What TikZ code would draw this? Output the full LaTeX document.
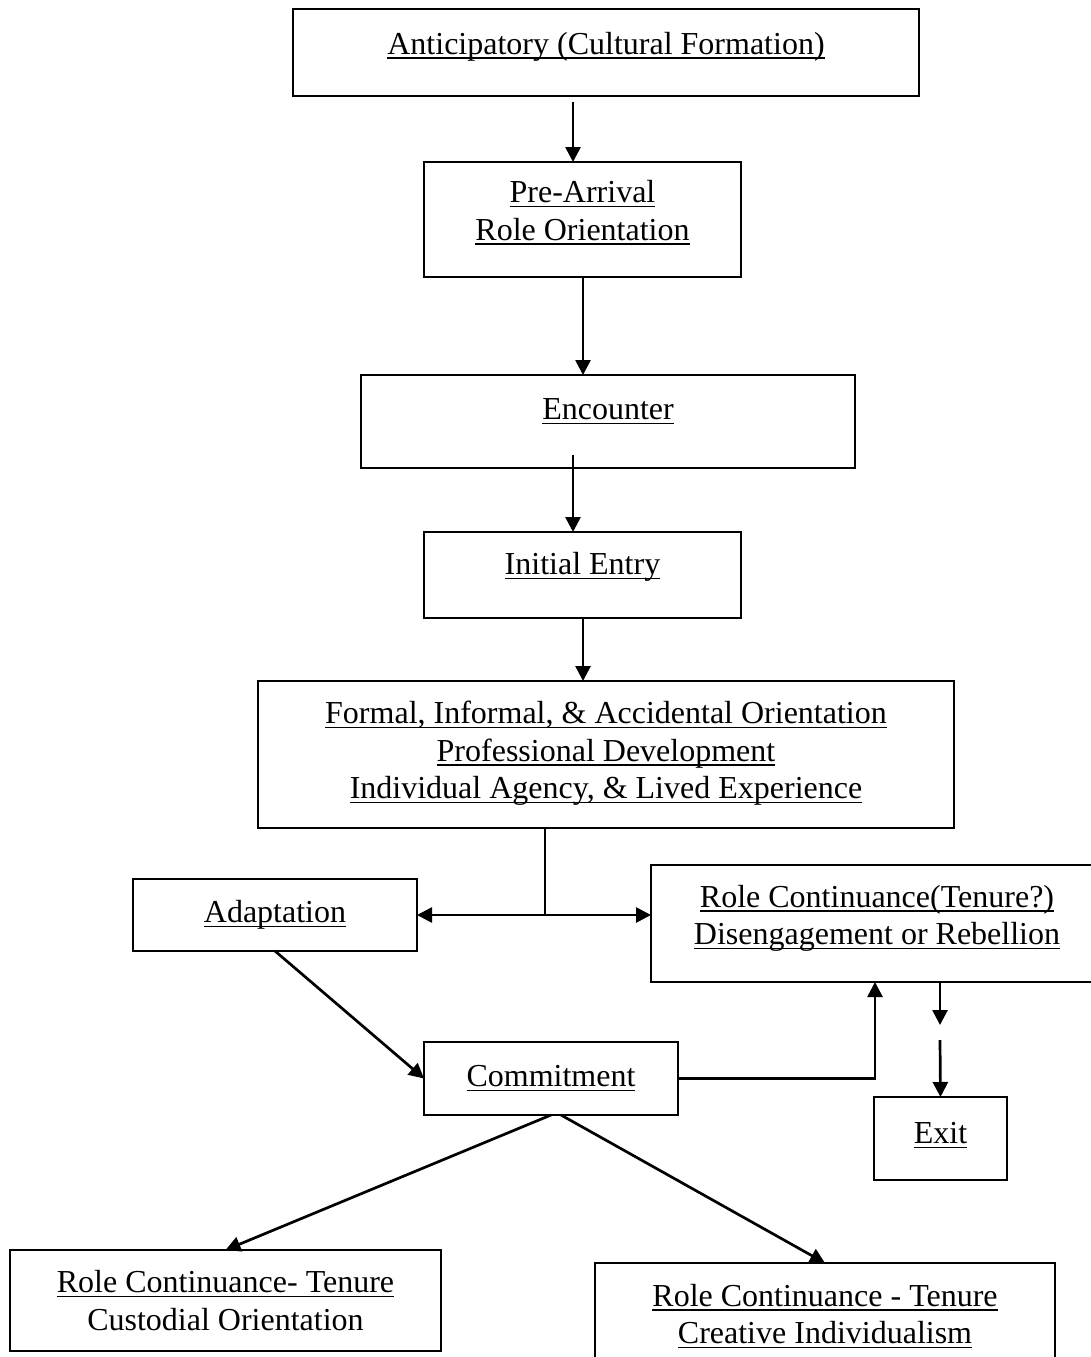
\documentclass[tikz,border=0pt]{standalone}
\usepackage{fontspec}
\setmainfont{Liberation Serif}
\usetikzlibrary{arrows.meta,calc}
\newsavebox\ulbox
\newcommand\ulx[1]{\sbox\ulbox{#1}\rlap{\rule[-4.5pt]{\wd\ulbox}{1.6pt}}\usebox\ulbox}
\begin{document}
\begin{tikzpicture}[x=1pt,y=-1pt,
  box/.style={draw=black,line width=2pt,anchor=north west,inner sep=0pt,outer sep=0pt},
  txt/.style={inner sep=0pt,align=center,font=\fontsize{32}{37.5}\selectfont},
  arr/.style={line width=2.7pt,-{Triangle[length=15pt,width=15pt]}},
  ln/.style={line width=2.7pt}]
\fill[white] (0,0) rectangle (1091,1357);
\useasboundingbox (0,0) rectangle (1091,1357);
\clip (0,0) rectangle (1091,1357);
% boxes
\node[box,minimum width=626pt,minimum height=87pt] (ant) at (293,9) {};
\node[box,minimum width=317pt,minimum height=115pt] (pre) at (424,162) {};
\node[box,minimum width=494pt,minimum height=93pt] (enc) at (361,375) {};
\node[box,minimum width=317pt,minimum height=86pt] (ini) at (424,532) {};
\node[box,minimum width=696pt,minimum height=147pt] (form) at (258,681) {};
\node[box,minimum width=284pt,minimum height=72pt] (adap) at (133,879) {};
\node[box,minimum width=470pt,minimum height=117pt] (rc) at (651,865) {};
\node[box,minimum width=254pt,minimum height=73pt] (com) at (424,1042) {};
\node[box,minimum width=133pt,minimum height=83pt] (exit) at (874,1097) {};
\node[box,minimum width=431pt,minimum height=101pt] (bl) at (10,1250) {};
\node[box,minimum width=460pt,minimum height=112pt] (br) at (595,1263) {};
% texts
\node[txt] (ant-t) at ([yshift=6pt]ant.center) {\ulx{Anticipatory (Cultural Formation)}};
\node[txt] (pre-t) at ([yshift=7pt]pre.center) {\ulx{Pre-Arrival}\\\ulx{Role Orientation}};
\node[txt] (enc-t) at ([yshift=10pt]enc.center) {\ulx{Encounter}};
\node[txt] (ini-t) at ([yshift=8pt]ini.center) {\ulx{Initial Entry}};
\node[txt] (form-t) at ([yshift=1pt]form.center) {\ulx{Formal, Informal, \& Accidental Orientation}\\\ulx{Professional Development}\\\ulx{Individual Agency, \& Lived Experience}};
\node[txt] (adap-t) at (adap.center) {\ulx{Adaptation}};
\node[txt] (rc-t) at ([xshift=-9pt,yshift=5pt]rc.center) {\ulx{Role Continuance(Tenure?)}\\\ulx{Disengagement or Rebellion}};
\node[txt] (com-t) at (com.center) {\ulx{Commitment}};
\node[txt] (exit-t) at ([yshift=3pt]exit.center) {\ulx{Exit}};
\node[txt] (bl-t) at (bl.center) {\ulx{Role Continuance- Tenure}\\Custodial Orientation};
\node[txt] (br-t) at ([yshift=3pt]br.center) {\ulx{Role Continuance - Tenure}\\\ulx{Creative Individualism}};
% helper coordinates
\coordinate (xa) at (573,0);
\coordinate (xb) at (583,0);
\coordinate (xs) at (545,0);
\coordinate (xad) at (275,0);
\coordinate (xup) at (875,0);
\coordinate (xex) at (940,0);
% connectors
\draw[arr] ([yshift=-6pt]ant.south -| xa) -- (pre.north -| xa);
\draw[arr] (pre.south -| xb) -- (enc.north -| xb);
\draw[arr] ([yshift=13pt]enc.south -| xa) -- (ini.north -| xa);
\draw[arr] (ini.south -| xb) -- (form.north -| xb);
\coordinate (split) at ($(form.south -| xs)+(0,87)$);
\draw[ln] (form.south -| xs) -- (split);
\draw[arr] (split) -- (split -| adap.east);
\draw[arr] (split) -- (split -| rc.west);
\draw[arr] (adap.south -| xad) -- (com.west);
\draw[arr] (com.east) -- (com.east -| xup) -- (rc.south -| xup);
\coordinate (exA) at ($(rc.south -| xex)+(0,43)$);
\draw[arr] (rc.south -| xex) -- (exA);
\coordinate (exB) at ($(rc.south -| xex)+(0,58)$);
\draw[arr] (exB) -- (exit.north);
\draw[arr] (com.south) -- (bl.north);
\draw[arr] ([xshift=10pt]com.south) -- (br.north);
\end{tikzpicture}
\end{document}
